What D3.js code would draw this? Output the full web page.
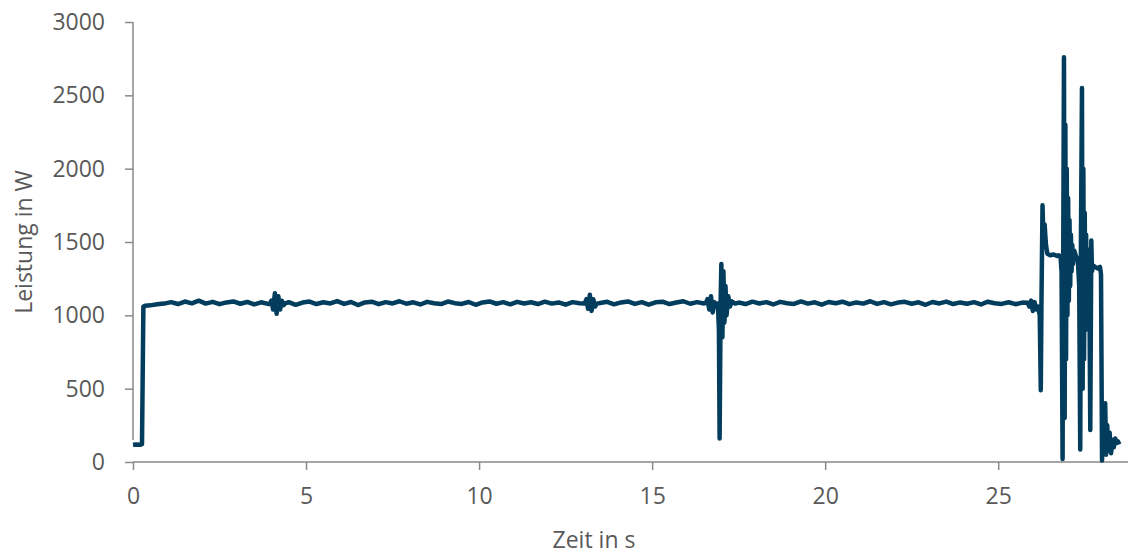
<!DOCTYPE html>
<html>
<head>
<meta charset="utf-8">
<script src="https://cdn.jsdelivr.net/npm/d3@7"></script>
<style>
  body { margin: 0; background: #fff; }
  text { font-family: "Open Sans", sans-serif; fill: #595959; }
</style>
</head>
<body>
<svg class="chart"></svg>
<script>
var width = 1131;
var height = 556;

var timeS = [
  0, 0.1, 0.2, 0.26, 0.3, 0.35, 0.5, 0.7,
  0.9, 1.1, 1.3, 1.5, 1.7, 1.9, 2.1, 2.3, 2.5, 2.7, 2.9, 3.1, 3.3, 3.5, 3.7, 3.9,
  3.95, 4.0, 4.05, 4.1, 4.15, 4.2, 4.25, 4.3, 4.35, 4.4,
  4.5, 4.7, 4.9, 5.1, 5.3, 5.5, 5.7, 5.9, 6.1, 6.3, 6.5, 6.7, 6.9, 7.1, 7.3, 7.5,
  7.7, 7.9, 8.1, 8.3, 8.5, 8.7, 8.9, 9.1, 9.3, 9.5, 9.7, 9.9, 10.1, 10.3, 10.5,
  10.7, 10.9, 11.1, 11.3, 11.5, 11.7, 11.9, 12.1, 12.3, 12.5, 12.7, 12.9,
  13.05, 13.1, 13.15, 13.2, 13.25, 13.3, 13.35, 13.4,
  13.5, 13.7, 13.9, 14.1, 14.3, 14.5, 14.7, 14.9, 15.1, 15.3, 15.5, 15.7, 15.9,
  16.1, 16.3, 16.5,
  16.55, 16.6, 16.65, 16.7, 16.75, 16.8, 16.85, 16.9, 16.93, 16.95, 16.98, 17.0,
  17.03, 17.06, 17.09, 17.12, 17.15, 17.2, 17.25, 17.3, 17.4,
  17.5, 17.7, 17.9, 18.1, 18.3, 18.5, 18.7, 18.9, 19.1, 19.3, 19.5, 19.7, 19.9,
  20.1, 20.3, 20.5, 20.7, 20.9, 21.1, 21.3, 21.5, 21.7, 21.9, 22.1, 22.3, 22.5,
  22.7, 22.9, 23.1, 23.3, 23.5, 23.7, 23.9, 24.1, 24.3, 24.5, 24.7, 24.9, 25.1,
  25.3, 25.5, 25.7,
  25.85, 25.9, 25.95, 26.0, 26.05, 26.1, 26.15, 26.2, 26.23, 26.25, 26.28, 26.31,
  26.34, 26.38, 26.42, 26.5, 26.6, 26.7, 26.75, 26.8, 26.83, 26.86, 26.88, 26.9,
  26.92, 26.94, 26.96, 26.98, 27.0, 27.02, 27.04, 27.06, 27.08, 27.1, 27.12,
  27.14, 27.16, 27.2, 27.25, 27.3, 27.34, 27.37, 27.39, 27.42, 27.44, 27.46,
  27.48, 27.5, 27.52, 27.54, 27.56, 27.58, 27.6, 27.63, 27.66, 27.69, 27.71,
  27.74, 27.8, 27.88, 27.94, 27.97, 28.0, 28.03, 28.06, 28.09, 28.12, 28.15,
  28.18, 28.22, 28.26, 28.3, 28.34, 28.38, 28.42, 28.46, 28.5
];

var powerW = [
  118, 120, 117, 122, 1060, 1065, 1068, 1075,
  1080, 1090, 1077, 1094, 1082, 1100, 1080, 1092, 1076, 1088, 1095, 1079, 1091, 1074, 1089, 1078,
  1078, 1100, 1040, 1150, 1010, 1130, 1040, 1100, 1070, 1082,
  1090, 1072, 1087, 1094, 1077, 1089, 1081, 1097, 1078, 1091, 1070, 1088, 1093, 1076, 1090, 1081,
  1096, 1079, 1089, 1074, 1092, 1082, 1077, 1094, 1083, 1078, 1091, 1072, 1088, 1095, 1079,
  1090, 1075, 1092, 1081, 1089, 1077, 1093, 1080, 1088, 1073, 1090, 1082,
  1080, 1110, 1045, 1140, 1030, 1110, 1060, 1080,
  1084, 1092, 1075, 1088, 1095, 1078, 1090, 1073, 1089, 1093, 1077, 1087, 1096,
  1079, 1090, 1081,
  1085, 1110, 1040, 1130, 1020, 1090, 1060, 1080, 900, 160, 1100, 1350,
  850, 1300, 950, 1200, 1000, 1130, 1060, 1095, 1080,
  1087, 1077, 1093, 1081, 1090, 1074, 1092, 1082, 1078, 1095, 1080, 1089, 1073,
  1091, 1082, 1093, 1076, 1088, 1080, 1096, 1078, 1090, 1075, 1087, 1092, 1079,
  1089, 1072, 1091, 1081, 1094, 1077, 1088, 1079, 1090, 1074, 1093, 1082, 1078,
  1089, 1076, 1087,
  1085, 1060, 1100, 1030, 1090, 1040, 1060, 1000, 490, 1100, 1750, 1500,
  1620, 1480, 1420, 1410, 1415, 1405, 1410, 1400, 1300, 20, 1500, 2760,
  300, 2300, 700, 2000, 1000, 1800, 1100, 1650, 1200, 1550, 1300,
  1480, 1350, 1440, 1400, 1380, 1200, 85, 1500, 2550, 500, 2000,
  700, 1700, 900, 1550, 1100, 1450, 1200, 1380, 218, 1510, 1300,
  1340, 1330, 1320, 1330, 1280, 10, 300, 100, 400, 50, 250,
  80, 200, 60, 150, 100, 160, 130, 140, 120
];

var yTicks = [0, 500, 1000, 1500, 2000, 2500, 3000];
var xTicks = [0, 5, 10, 15, 20, 25];

var data = timeS.map(function(t, i) { return { t: t, p: powerW[i] }; });

var svg = d3.select(".chart").attr("width", width).attr("height", height);

var x = d3.scaleLinear().domain([0, 28.75]).range([133, 1128]);
var y = d3.scaleLinear().domain([0, 3000]).range([462, 22]);

// axes
var yAxis = svg.append("g").attr("transform", "translate(133,0)")
  .call(d3.axisLeft(y).tickValues(yTicks).tickSize(8).tickPadding(20).tickFormat(d3.format("d")));
var xAxis = svg.append("g").attr("transform", "translate(0,462)")
  .call(d3.axisBottom(x).tickValues(xTicks).tickSize(8).tickPadding(18).tickFormat(d3.format("d")));

[yAxis, xAxis].forEach(function(ax) {
  ax.select(".domain").attr("stroke", "#898989").attr("stroke-width", 1.5);
  ax.selectAll(".tick line").attr("stroke", "#898989").attr("stroke-width", 1.5);
  ax.selectAll(".tick text").style("font-size", "23px").attr("fill", "#595959");
});
xAxis.select(".domain").attr("d", "M133,0V0H1128");
yAxis.select(".domain").attr("d", "M0,22V440");

// line
svg.append("path")
  .datum(data)
  .attr("fill", "none")
  .attr("stroke", "#033d5d")
  .attr("stroke-width", 4.5)
  .attr("stroke-linejoin", "round")
  .attr("d", d3.line().x(function(d) { return x(d.t); }).y(function(d) { return y(d.p); }));

// axis titles
svg.append("text")
  .attr("transform", "translate(23,242) rotate(-90)")
  .attr("text-anchor", "middle")
  .attr("dominant-baseline", "central")
  .style("font-size", "23px")
  .text("Leistung in W");

svg.append("text")
  .attr("x", 594)
  .attr("y", 539)
  .attr("text-anchor", "middle")
  .attr("dominant-baseline", "central")
  .style("font-size", "23px")
  .text("Zeit in s");
</script>
</body>
</html>
